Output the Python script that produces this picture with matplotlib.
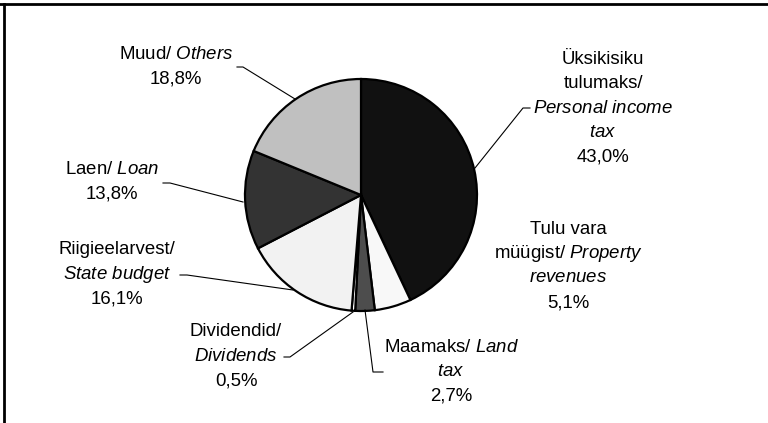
import matplotlib.pyplot as plt
from matplotlib.lines import Line2D

plt.rcParams['font.family'] = ['Liberation Sans', 'DejaVu Sans']
plt.rcParams['mathtext.fontset'] = 'custom'
plt.rcParams['mathtext.rm'] = 'Liberation Sans'
plt.rcParams['mathtext.it'] = 'Liberation Sans:italic'

# shares, clockwise from 12 o'clock
names = ['Personal income tax', 'Property revenues', 'Land tax', 'Dividends',
         'State budget', 'Loan', 'Others']
shares = [43.0, 5.1, 2.7, 0.5, 16.1, 13.8, 18.8]
colors = ['#111111', '#f8f8f8', '#4d4d4d', '#ffffff', '#f2f2f2', '#333333', '#c0c0c0']
label_lines = [
    ['Üksikisiku', 'tulumaks/', r'$\mathit{Personal\ income}$', r'$\mathit{tax}$'],
    ['Tulu vara', r'müügist/ $\mathit{Property}$', r'$\mathit{revenues}$'],
    [r'Maamaks/ $\mathit{Land}$', r'$\mathit{tax}$'],
    ['Dividendid/', r'$\mathit{Dividends}$'],
    ['Riigieelarvest/', r'$\mathit{State\ budget}$'],
    [r'Laen/ $\mathit{Loan}$'],
    [r'Muud/ $\mathit{Others}$'],
]

W, H = 768, 423
fig = plt.figure(figsize=(W / 100, H / 100), dpi=100)
ax = fig.add_axes([0, 0, 1, 1])

cx, cy, r = 361, H - 195, 116
wedges, _ = ax.pie(shares, colors=colors, startangle=90, counterclock=False,
                   center=(cx, cy), radius=r, frame=True,
                   wedgeprops=dict(edgecolor='black', linewidth=1.6))
ax.set_xlim(0, W)
ax.set_ylim(0, H)
ax.set_aspect('equal')
ax.axis('off')

# label layout: (center x, first line y in image px)
label_pos = [(603, 59), (568, 229), (451, 347), (236, 332), (117, 250), (112, 169), (176, 54)]
step = 24.5
fs = 13.4
for lines, val, (x, y0) in zip(label_lines, shares, label_pos):
    allines = lines + [f'{val:.1f}%'.replace('.', ',')]
    for i, t in enumerate(allines):
        ax.text(x, H - (y0 + i * step), t, ha='center', va='center', fontsize=fs, color='black')

# leader lines (image px)
leaders = [
    [(475, 168), (523, 108), (530, 108)],
    [(365, 310), (373, 372), (383, 372)],
    [(353, 312), (290, 357), (284, 357)],
    [(293, 290), (187, 275), (180, 275)],
    [(243, 202), (170, 183), (163, 183)],
    [(295, 99), (243, 67), (237, 67)],
]
for pts in leaders:
    ax.plot([p[0] for p in pts], [H - p[1] for p in pts], color='black', lw=0.8)

# outer frame (top and left edges visible)
fig.add_artist(Line2D([0, 1], [1 - 4 / H, 1 - 4 / H], color='black', lw=2, transform=fig.transFigure))
fig.add_artist(Line2D([4 / W, 4 / W], [0, 1 - 4 / H], color='black', lw=2, transform=fig.transFigure))

fig.savefig('out.png', dpi=100)
